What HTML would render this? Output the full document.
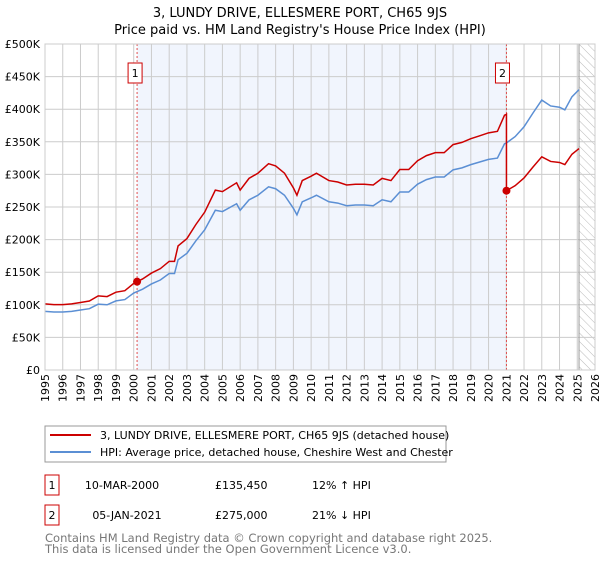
<!DOCTYPE html>
<html><head><meta charset="utf-8"><style>
body{margin:0;background:#fff;font-family:"DejaVu Sans","Liberation Sans",sans-serif;}
svg text{font-family:"DejaVu Sans","Liberation Sans",sans-serif;}
</style></head><body>
<svg id="chart" width="600" height="560" xmlns="http://www.w3.org/2000/svg">
<defs><pattern id="hatch" width="6" height="6" patternUnits="userSpaceOnUse" patternTransform="rotate(-45)"><line x1="0" y1="0" x2="0" y2="6" stroke="#bbb" stroke-width="1"/></pattern></defs>
<text x="300" y="17" text-anchor="middle" font-size="13">3, LUNDY DRIVE, ELLESMERE PORT, CH65 9JS</text>
<text x="300" y="34" text-anchor="middle" font-size="13">Price paid vs. HM Land Registry's House Price Index (HPI)</text>
<g id="plot"></g>
<rect x="45" y="426" width="401" height="36" fill="#fff" stroke="#999"/>
<line x1="50" y1="435" x2="91" y2="435" stroke="#cc0000" stroke-width="2"/>
<text x="100" y="439" font-size="11">3, LUNDY DRIVE, ELLESMERE PORT, CH65 9JS (detached house)</text>
<line x1="50" y1="452" x2="91" y2="452" stroke="#5b8fd4" stroke-width="2"/>
<text x="100" y="456" font-size="11">HPI: Average price, detached house, Cheshire West and Chester</text>
<rect x="45" y="475" width="14" height="20" fill="#fff" stroke="#cc0000"/>
<text x="52" y="489" font-size="11" text-anchor="middle">1</text>
<text x="122" y="489" font-size="11" text-anchor="middle">10-MAR-2000</text>
<text x="215" y="489" font-size="11">£135,450</text>
<text x="312" y="489" font-size="11">12% ↑ HPI</text>
<rect x="45" y="505" width="14" height="20" fill="#fff" stroke="#cc0000"/>
<text x="52" y="519" font-size="11" text-anchor="middle">2</text>
<text x="127" y="519" font-size="11" text-anchor="middle">05-JAN-2021</text>
<text x="215" y="519" font-size="11">£275,000</text>
<text x="312" y="519" font-size="11">21% ↓ HPI</text>
<text x="45" y="542" font-size="11.5" fill="#777">Contains HM Land Registry data © Crown copyright and database right 2025.</text>
<text x="45" y="553" font-size="11.5" fill="#777">This data is licensed under the Open Government Licence v3.0.</text>
</svg>
<script>
const hpiYears=[1995,1995.5,1996,1996.5,1997,1997.5,1998,1998.5,1999,1999.5,2000,2000.5,2001,2001.5,2002,2002.3,2002.5,2003,2003.5,2004,2004.6,2005,2005.8,2006,2006.5,2007,2007.6,2008,2008.5,2009,2009.2,2009.5,2010,2010.3,2011,2011.5,2012,2012.5,2013,2013.5,2014,2014.5,2015,2015.5,2016,2016.5,2017,2017.5,2018,2018.5,2019,2019.5,2020,2020.5,2020.9,2021,2021.5,2022,2022.5,2023,2023.5,2024,2024.3,2024.7,2025.1];
const hpiVals=[90,89,89,90,92,94,101,100,106,108,118,124,132,138,148,148,169,179,198,215,245,243,255,245,261,268,281,278,268,248,238,258,264,268,258,256,252,253,253,252,261,258,273,273,285,292,296,296,307,310,315,319,323,325,347,348,358,373,394,414,405,403,399,419,430];
const saleDates=[2000.19,2021.01];
const salePrices=[135.45,275];
const yTicks=[0,50,100,150,200,250,300,350,400,450,500];
const yTickLabels=["£0","£50K","£100K","£150K","£200K","£250K","£300K","£350K","£400K","£450K","£500K"];
const xTicks=[1995,1996,1997,1998,1999,2000,2001,2002,2003,2004,2005,2006,2007,2008,2009,2010,2011,2012,2013,2014,2015,2016,2017,2018,2019,2020,2021,2022,2023,2024,2025,2026];

const L=45,R=595,T=44,B=370,NS="http://www.w3.org/2000/svg";
const xS=y=>L+(y-1995)/(2026-1995)*(R-L);
const yS=v=>B-v/500*(B-T);
const g=document.getElementById('plot');
function mk(t,a){const e=document.createElementNS(NS,t);for(const k in a)e.setAttribute(k,a[k]);g.appendChild(e);return e;}
function hpiAt(y){for(let i=1;i<hpiYears.length;i++){if(y<=hpiYears[i]){const f=(y-hpiYears[i-1])/(hpiYears[i]-hpiYears[i-1]);return hpiVals[i-1]+f*(hpiVals[i]-hpiVals[i-1]);}}return hpiVals[hpiVals.length-1];}

let e=mk('rect',{x:xS(saleDates[0]),y:T,width:xS(saleDates[1])-xS(saleDates[0]),height:B-T,fill:'#eef3fd',opacity:0.8});


e=mk('rect',{x:xS(2025.1),y:T,width:R-xS(2025.1),height:B-T,fill:'url(#hatch)'});


xTicks.forEach(t=>{const x=xS(t);
 e=mk('line',{x1:x,y1:T,x2:x,y2:B,stroke:'#ccc'});
 
 
 e=mk('text',{x:x+4,y:374,'font-size':11,'text-anchor':'end',transform:'rotate(-90 '+(x+4)+' 374)'});e.textContent=t;
 
 
});
yTicks.forEach((t,i)=>{const y=yS(t);
 e=mk('line',{x1:L,y1:y,x2:R,y2:y,stroke:'#ccc'});
 
 
 e=mk('text',{x:40,y:y+4,'font-size':11,'text-anchor':'end'});e.textContent=yTickLabels[i];
 
 
});
e=mk('line',{x1:xS(2025.1),y1:T,x2:xS(2025.1),y2:B,stroke:'#999'});


saleDates.forEach((d,i)=>{const x=xS(d);
 e=mk('line',{x1:x,y1:T,x2:x,y2:B,stroke:'#e05050','stroke-dasharray':'2,2'});
 
 
 e=mk('rect',{x:x-(i?11:9),y:T+19,width:14,height:20,fill:'#fff',stroke:'#cc0000'});
 
 
 e=mk('text',{x:x-(i?4:2),y:T+33,'font-size':11,'text-anchor':'middle'});e.textContent=i+1;
});
e=mk('polyline',{points:hpiYears.map((y,i)=>xS(y)+','+yS(hpiVals[i])).join(' '),fill:'none',stroke:'#5b8fd4','stroke-width':1.5});


const f1=salePrices[0]/hpiAt(saleDates[0]), f2=salePrices[1]/hpiAt(saleDates[1]);
const pts=[];
hpiYears.forEach((y,i)=>{if(y<saleDates[1])pts.push(xS(y)+','+yS(hpiVals[i]*f1));});
pts.push(xS(saleDates[1])+','+yS(hpiAt(saleDates[1])*f1));
pts.push(xS(saleDates[1])+','+yS(salePrices[1]));
hpiYears.forEach((y,i)=>{if(y>saleDates[1])pts.push(xS(y)+','+yS(hpiVals[i]*f2));});
e=mk('polyline',{points:pts.join(' '),fill:'none',stroke:'#cc0000','stroke-width':1.5});


saleDates.forEach((d,i)=>{
 e=mk('circle',{cx:xS(d),cy:yS(salePrices[i]),r:4,fill:'#cc0000'});
 
 
});
e=mk('rect',{x:L,y:T,width:R-L,height:B-T,fill:'none',stroke:'#ccc'});
</script>
</body></html>
